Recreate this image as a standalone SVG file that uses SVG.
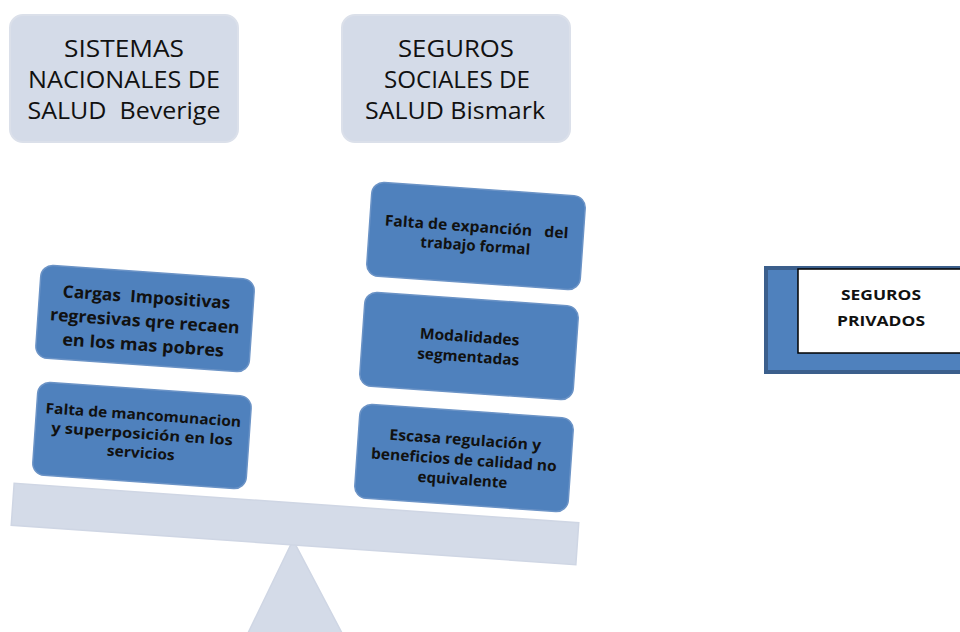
<svg xmlns="http://www.w3.org/2000/svg" width="960" height="632" viewBox="0 0 960 632">
<style>
.hdr{fill:#d4dbe8;stroke:#dbe0ea;stroke-width:2}
.hdrt{font-family:"Open Sans","Liberation Sans",sans-serif;font-size:24px;fill:#111;text-anchor:middle;white-space:pre}
.box{fill:#4f81bd;stroke:#6b93c6;stroke-width:1.5}
.bt{font-family:"Open Sans","Liberation Sans",sans-serif;font-weight:bold;fill:#111;text-anchor:middle;white-space:pre}
.scale{fill:#d4dbe8;stroke:#cfd6e4;stroke-width:1.5}
</style>
<rect width="960" height="632" fill="#ffffff"/>
<g id="fulcrum"><polygon class="scale" points="293,540 248,633 342,633"/></g>
<g id="beam"><rect class="scale" x="12" y="503" width="566" height="42" transform="rotate(4 295 524)"/></g>
<g id="beverige">
<rect class="hdr" x="10" y="15" width="228" height="127" rx="13"/>
<text class="hdrt" x="124" y="57" textLength="120" lengthAdjust="spacingAndGlyphs">SISTEMAS</text>
<text class="hdrt" x="124" y="88" textLength="192" lengthAdjust="spacingAndGlyphs">NACIONALES DE</text>
<text class="hdrt" x="124" y="119" textLength="193" lengthAdjust="spacingAndGlyphs">SALUD  Beverige</text>
</g>
<g id="bismark">
<rect class="hdr" x="342" y="15" width="228" height="127" rx="13"/>
<text class="hdrt" x="456" y="57" textLength="116" lengthAdjust="spacingAndGlyphs">SEGUROS</text>
<text class="hdrt" x="457" y="88" textLength="146" lengthAdjust="spacingAndGlyphs">SOCIALES DE</text>
<text class="hdrt" x="455" y="119" textLength="180" lengthAdjust="spacingAndGlyphs">SALUD Bismark</text>
</g>
<g id="cargas" transform="rotate(4 145 319)">
<rect class="box" x="38" y="272" width="214" height="93" rx="12"/>
<text class="bt" font-size="17" x="145" y="303" textLength="168" lengthAdjust="spacingAndGlyphs">Cargas  Impositivas</text>
<text class="bt" font-size="17" x="145" y="327" textLength="190" lengthAdjust="spacingAndGlyphs">regresivas qre recaen</text>
<text class="bt" font-size="17" x="145" y="351" textLength="162" lengthAdjust="spacingAndGlyphs">en los mas pobres</text>
</g>
<g id="mancomunacion" transform="rotate(4 142 435)">
<rect class="box" x="35" y="389" width="214" height="93" rx="12"/>
<text class="bt" font-size="14.5" x="142" y="420" textLength="196" lengthAdjust="spacingAndGlyphs">Falta de mancomunacion</text>
<text class="bt" font-size="14.5" x="142" y="439" textLength="182" lengthAdjust="spacingAndGlyphs">y superposición en los</text>
<text class="bt" font-size="14.5" x="142" y="458" textLength="68" lengthAdjust="spacingAndGlyphs">servicios</text>
</g>
<g id="expancion" transform="rotate(4 476 236)">
<rect class="box" x="369" y="189" width="214" height="94" rx="12"/>
<text class="bt" font-size="15" x="476" y="232" textLength="184" lengthAdjust="spacingAndGlyphs">Falta de expanción   del</text>
<text class="bt" font-size="15" x="476" y="251" textLength="110" lengthAdjust="spacingAndGlyphs">trabajo formal</text>
</g>
<g id="modalidades" transform="rotate(4 469 346)">
<rect class="box" x="362" y="299" width="214" height="94" rx="12"/>
<text class="bt" font-size="15" x="469" y="342" textLength="100" lengthAdjust="spacingAndGlyphs">Modalidades</text>
<text class="bt" font-size="15" x="469" y="362" textLength="102" lengthAdjust="spacingAndGlyphs">segmentadas</text>
</g>
<g id="escasa" transform="rotate(4 464 458)">
<rect class="box" x="357" y="411" width="214" height="94" rx="12"/>
<text class="bt" font-size="15" x="464" y="445" textLength="152" lengthAdjust="spacingAndGlyphs">Escasa regulación y</text>
<text class="bt" font-size="15" x="464" y="465" textLength="186" lengthAdjust="spacingAndGlyphs">beneficios de calidad no</text>
<text class="bt" font-size="15" x="464" y="485" textLength="90" lengthAdjust="spacingAndGlyphs">equivalente</text>
</g>
<g id="privados">
<rect x="766" y="268" width="200" height="104" fill="#4f81bd" stroke="#3b5f8c" stroke-width="4"/>
<rect x="798" y="269" width="170" height="84" fill="#ffffff" stroke="#000" stroke-width="1.5"/>
<text class="bt" font-size="15" x="881" y="300" textLength="80" lengthAdjust="spacingAndGlyphs">SEGUROS</text>
<text class="bt" font-size="15" x="881" y="326" textLength="88" lengthAdjust="spacingAndGlyphs">PRIVADOS</text>
</g>
<g id="connectors"></g>
</svg>
